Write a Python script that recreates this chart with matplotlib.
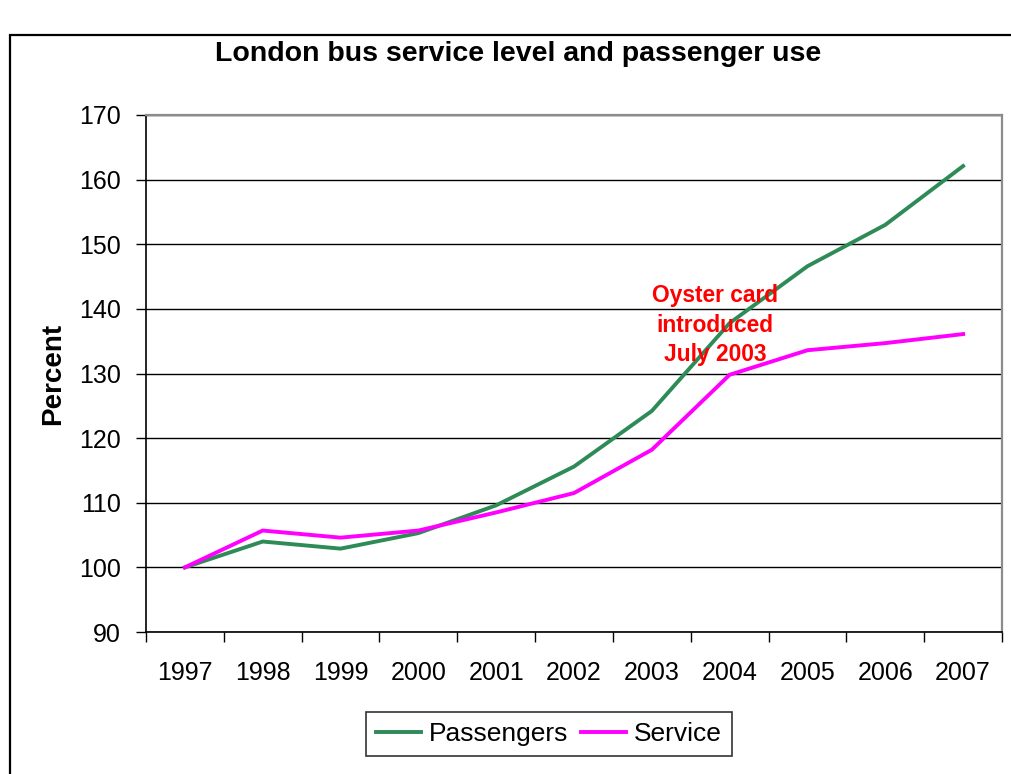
import matplotlib
matplotlib.use("Agg")
import matplotlib.pyplot as plt
from matplotlib.patches import Rectangle

plt.rcParams['font.family'] = ['Liberation Sans', 'DejaVu Sans']

years = ['1997', '1998', '1999', '2000', '2001', '2002', '2003', '2004', '2005', '2006', '2007']
passengers = [100.0, 104.0, 102.9, 105.3, 109.6, 115.6, 124.2, 137.8, 146.6, 153.0, 162.1]
service = [100.0, 105.7, 104.6, 105.7, 108.5, 111.5, 118.2, 129.8, 133.6, 134.7, 136.1]
y_ticks = [90, 100, 110, 120, 130, 140, 150, 160, 170]

W, H = 1011, 774
fig = plt.figure(figsize=(W / 100, H / 100), dpi=100)

# outer frame of the chart object (extends past the right and bottom edges)
fig.patches.append(Rectangle((10 / W, -0.1), 1.2, (H - 35) / H + 0.1,
                             transform=fig.transFigure, fill=False,
                             edgecolor='black', linewidth=1.6))

ax = fig.add_axes([146 / W, (H - 632) / H, (1002 - 146) / W, (632 - 115) / H])
x = list(range(len(years)))
ax.plot(x, passengers, color='#2E8B57', linewidth=2.8, label='Passengers',
        solid_joinstyle='miter')
ax.plot(x, service, color='#FF00FF', linewidth=2.8, label='Service',
        solid_joinstyle='miter')

ax.set_xlim(-0.5, len(years) - 0.5)
ax.set_ylim(90, 170)
ax.set_yticks(y_ticks)
ax.set_yticklabels([str(v) for v in y_ticks], fontsize=18)
ax.yaxis.grid(True, color='black', linewidth=1.0)
ax.set_axisbelow(True)

# category boundaries carry the tick marks, labels sit at the centres
ax.set_xticks([i - 0.5 for i in range(len(years) + 1)])
ax.set_xticklabels([])
ax.set_xticks(x, minor=True)
ax.set_xticklabels(years, minor=True, fontsize=18)
ax.tick_params(axis='x', which='major', direction='out', length=7, width=1, color='black')
ax.tick_params(axis='x', which='minor', length=0, pad=21)
ax.tick_params(axis='y', direction='out', length=7, width=1, pad=11)

for side in ('left', 'bottom'):
    ax.spines[side].set_color('black')
    ax.spines[side].set_linewidth(1.2)
for side in ('top', 'right'):
    ax.spines[side].set_color('#8c8c8c')
    ax.spines[side].set_linewidth(1.6)

ax.set_ylabel('Percent', fontsize=20, fontweight='bold', labelpad=9)

fig.text(518 / W, 1 - 54 / H, 'London bus service level and passenger use',
         ha='center', va='center', fontsize=20.5, fontweight='bold')

ax.text(6.81, 137.5, 'Oyster card\nintroduced\nJuly 2003', ha='center', va='center',
        color='#FF0000', fontsize=16.4, fontweight='bold', linespacing=1.35)

leg = ax.legend(loc='center', bbox_to_anchor=((549 - 146) / (1002 - 146), -(734 - 632) / (632 - 115)),
                ncol=2, fontsize=19, frameon=True, fancybox=False, handlelength=1.7,
                handletextpad=0.3, columnspacing=0.5, borderpad=0.38)
leg.get_frame().set_edgecolor('black')
leg.get_frame().set_linewidth(1.2)

fig.savefig('out.png', dpi=100)
